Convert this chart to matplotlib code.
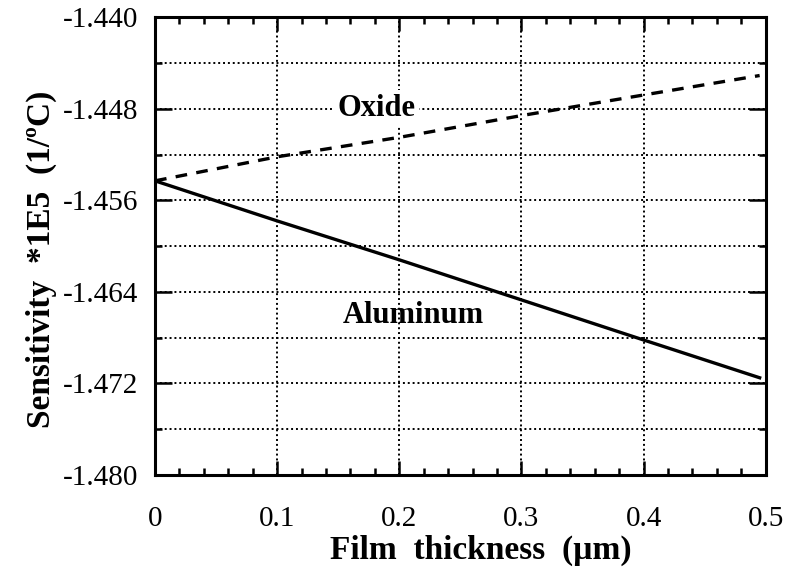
import matplotlib.pyplot as plt
from matplotlib.ticker import MultipleLocator

plt.rcParams["font.family"] = ["Liberation Serif", "DejaVu Serif"]
plt.rcParams["axes.unicode_minus"] = False

# ===== data =====
thickness = [0.0, 0.1, 0.2, 0.3, 0.4, 0.495]
aluminum = [-1.4543, -1.4578, -1.4612, -1.4647, -1.4682, -1.4715]
oxide = [-1.4543, -1.4522, -1.4505, -1.4486, -1.4468, -1.4451]

x_ticks = [0, 0.1, 0.2, 0.3, 0.4, 0.5]
x_labels = ["0", "0.1", "0.2", "0.3", "0.4", "0.5"]
y_ticks = [-1.480, -1.472, -1.464, -1.456, -1.448, -1.440]

# ===== plot =====
fig = plt.figure(figsize=(7.87, 5.71), dpi=100)
ax = fig.add_axes([0.197, 0.168, 0.776, 0.802])

ax.plot(thickness, aluminum, color="black", lw=2.4)
ax.plot(thickness, oxide, color="black", lw=2.4, dashes=(3.5, 2.8))

ax.set_xlim(0, 0.5)
ax.set_ylim(-1.480, -1.440)
ax.set_xticks(x_ticks)
ax.set_xticklabels(x_labels)
ax.set_yticks(y_ticks)
ax.set_yticklabels([f"{v:.3f}" for v in y_ticks])
ax.xaxis.set_minor_locator(MultipleLocator(0.02))
ax.yaxis.set_minor_locator(MultipleLocator(0.004))

ax.tick_params(which="both", direction="in", top=True, right=True,
               labelsize=21, width=1.8)
ax.tick_params(axis="x", pad=22)
ax.tick_params(axis="y", pad=12)
ax.tick_params(which="major", length=10)
ax.tick_params(which="minor", length=5)
ax.tick_params(axis="y", which="major", length=12)

# dotted grid: x at major ticks, y at every 0.004
ax.grid(axis="x", which="major", color="black", linestyle=(0, (1, 1.5)), lw=1.4)
ax.grid(axis="y", which="both", color="black", linestyle=(0, (1, 1.5)), lw=1.4)
ax.set_axisbelow(False)

for s in ax.spines.values():
    s.set_linewidth(2.2)

ax.text(0.149, -1.448, "Oxide", fontsize=22, fontweight="bold", va="center",
        bbox=dict(facecolor="white", edgecolor="none", pad=3))
ax.text(0.154, -1.4661, "Aluminum", fontsize=22, fontweight="bold", va="center")

ax.set_xlabel("Film  thickness  (µm)", fontsize=24, fontweight="bold")
ax.set_ylabel("Sensitivity  *1E5  (1/ºC)", fontsize=24, fontweight="bold")
ax.xaxis.set_label_coords(0.534, -0.13)
ax.yaxis.set_label_coords(-0.16, 0.472)

fig.savefig("out.png", dpi=100)
